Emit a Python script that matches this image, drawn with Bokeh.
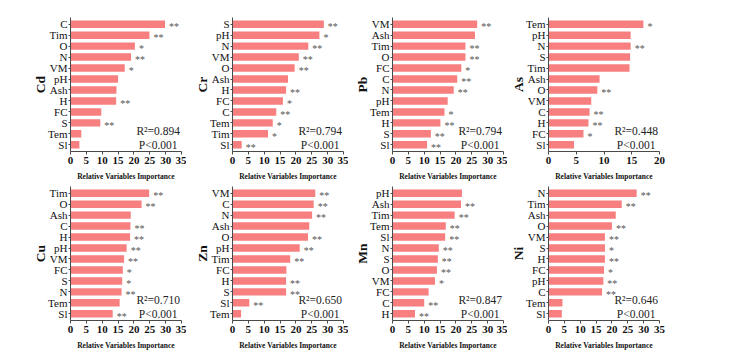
from bokeh.plotting import figure
from bokeh.models import FactorRange, Range1d, FixedTicker, ColumnDataSource
from bokeh.layouts import column, row
from bokeh.embed import file_html
from bokeh.resources import INLINE
from bokeh.core.properties import value

# ---------------- data ----------------
cd_vars = ["C", "Tim", "O", "N", "VM", "pH", "Ash", "H", "FC", "S", "Tem", "Sl"]
cd_vals = [29.8, 24.9, 20.3, 19.1, 17.1, 15.0, 14.5, 14.4, 9.7, 9.4, 3.4, 2.8]
cd_sig = ["**", "**", "*", "**", "*", "", "", "**", "", "**", "", ""]

cr_vars = ["S", "pH", "N", "VM", "O", "Ash", "H", "FC", "C", "Tem", "Tim", "Sl"]
cr_vals = [28.8, 27.4, 23.9, 20.9, 19.6, 17.5, 16.9, 15.9, 13.8, 12.7, 11.2, 2.9]
cr_sig = ["**", "*", "**", "**", "**", "", "**", "*", "**", "*", "*", "**"]

pb_vars = ["VM", "Ash", "Tim", "O", "FC", "C", "N", "pH", "Tem", "H", "S", "Sl"]
pb_vals = [26.7, 26.0, 23.0, 23.0, 21.7, 20.4, 19.3, 17.4, 16.4, 15.1, 12.1, 10.9]
pb_sig = ["**", "", "**", "**", "*", "**", "**", "", "*", "**", "**", "**"]

as_vars = ["Tem", "pH", "N", "S", "Tim", "Ash", "O", "VM", "C", "H", "FC", "Sl"]
as_vals = [17.1, 14.8, 14.8, 14.7, 14.6, 9.2, 8.8, 7.7, 7.4, 7.2, 6.3, 4.6]
as_sig = ["*", "", "**", "", "", "", "**", "", "**", "**", "*", ""]

cu_vars = ["Tim", "O", "Ash", "C", "H", "pH", "VM", "FC", "S", "N", "Tem", "Sl"]
cu_vals = [24.8, 22.4, 19.0, 18.9, 18.8, 17.7, 16.9, 16.5, 16.3, 16.1, 15.5, 13.3]
cu_sig = ["**", "**", "", "**", "**", "**", "**", "*", "*", "**", "", "**"]

zn_vars = ["VM", "C", "N", "Ash", "O", "pH", "Tim", "FC", "H", "S", "Sl", "Tem"]
zn_vals = [26.1, 25.6, 25.1, 24.2, 23.8, 21.2, 18.2, 17.0, 16.9, 16.9, 5.3, 2.7]
zn_sig = ["**", "**", "**", "", "**", "**", "**", "", "**", "**", "**", ""]

mn_vars = ["pH", "Ash", "Tim", "Tem", "Sl", "N", "S", "O", "VM", "FC", "C", "H"]
mn_vals = [21.9, 21.6, 19.6, 16.8, 16.6, 14.6, 14.3, 14.0, 13.4, 11.4, 10.0, 7.1]
mn_sig = ["", "**", "**", "**", "**", "**", "**", "**", "*", "", "**", "**"]

ni_vars = ["N", "Tim", "Ash", "O", "VM", "S", "H", "FC", "pH", "C", "Tem", "Sl"]
ni_vals = [27.8, 23.1, 21.2, 20.0, 17.8, 17.8, 17.8, 17.5, 17.3, 16.9, 4.4, 4.2]
ni_sig = ["**", "**", "", "**", "**", "*", "**", "*", "**", "**", "", ""]

metals = ["Cd", "Cr", "Pb", "As", "Cu", "Zn", "Mn", "Ni"]
r2_texts = ["R²=0.894", "R²=0.794", "R²=0.794", "R²=0.448",
            "R²=0.710", "R²=0.650", "R²=0.847", "R²=0.646"]
p_text = "P<0.001"
x_max = [35, 35, 35, 20, 35, 35, 35, 35]
ticks_35 = [0, 5, 10, 15, 20, 25, 30, 35]
ticks_20 = [0, 5, 10, 15, 20]
x_title = "Relative Variables Importance"

# ---------------- styling ----------------
SERIF = "Liberation Serif"
BAR = "#F77F7F"
AXIS = "#4a4a4a"
FRAME_W = 111
FRAME_H = 134
lefts = [70, 46, 44, 41]
rights = [5, 5, 4, 10]


def panel(i, vars_, vals, sig):
    top = i < 4
    col = i % 4
    factors = list(reversed(vars_))
    p = figure(
        y_range=FactorRange(*factors, range_padding=0.11, range_padding_units="absolute"),
        x_range=Range1d(0, x_max[i]),
        frame_width=FRAME_W, frame_height=FRAME_H,
        min_border_left=lefts[col], min_border_right=rights[col],
        min_border_top=17 if top else 1,
        min_border_bottom=34 if top else 30,
        output_backend="svg", toolbar_location=None,
    )
    p.outline_line_color = None
    p.background_fill_color = "white"
    p.border_fill_color = "white"
    p.xgrid.visible = False
    p.ygrid.visible = False

    src = ColumnDataSource(dict(var=vars_, val=vals, sig=sig))
    p.hbar(y="var", right="val", left=0, height=0.68, source=src,
           fill_color=BAR, line_color=None)
    p.text(x="val", y="var", text="sig", source=src, x_offset=4, y_offset=2.5,
           text_font=value(SERIF), text_font_size="10px", text_color="#555555",
           text_align="left", text_baseline="middle")

    xr = 0.79 * x_max[i]
    p.text(x=[xr], y=[factors[1]], text=[r2_texts[i]], y_offset=-3,
           text_font=value(SERIF), text_font_size="11.5px", text_color="#222222",
           text_align="center", text_baseline="middle")
    p.text(x=[xr], y=[factors[0]], text=[p_text], y_offset=0,
           text_font=value(SERIF), text_font_size="11.5px", text_color="#222222",
           text_align="center", text_baseline="middle")

    # x axis
    xa = p.xaxis[0]
    xa.ticker = FixedTicker(ticks=ticks_20 if x_max[i] == 20 else ticks_35)
    xa.minor_tick_line_color = None
    xa.major_tick_in = 0
    xa.major_tick_out = 3
    xa.major_label_standoff = 2
    xa.axis_line_color = AXIS
    xa.major_tick_line_color = AXIS
    xa.major_label_text_font = SERIF
    xa.major_label_text_font_style = "bold"
    xa.major_label_text_font_size = "11px"
    xa.major_label_text_color = "#111111"
    xa.axis_label = x_title
    xa.axis_label_text_font = SERIF
    xa.axis_label_text_font_style = "bold"
    xa.axis_label_text_font_size = "7.5px"
    xa.axis_label_text_color = "#111111"
    xa.axis_label_standoff = 5

    # y axis
    ya = p.yaxis[0]
    ya.major_tick_in = 0
    ya.major_tick_out = 2
    ya.major_label_standoff = 1
    ya.axis_line_color = AXIS
    ya.major_tick_line_color = AXIS
    ya.major_label_text_font = SERIF
    ya.major_label_text_font_size = "11px"
    ya.major_label_text_color = "#111111"
    ya.axis_label = metals[i]
    ya.axis_label_text_font = SERIF
    ya.axis_label_text_font_style = "bold"
    ya.axis_label_text_font_size = "13.5px"
    ya.axis_label_text_color = "#111111"
    ya.axis_label_standoff = -3
    return p


data = [
    (cd_vars, cd_vals, cd_sig), (cr_vars, cr_vals, cr_sig),
    (pb_vars, pb_vals, pb_sig), (as_vars, as_vals, as_sig),
    (cu_vars, cu_vals, cu_sig), (zn_vars, zn_vals, zn_sig),
    (mn_vars, mn_vals, mn_sig), (ni_vars, ni_vals, ni_sig),
]
figs = [panel(i, *d) for i, d in enumerate(data)]
layout = column(row(*figs[:4]), row(*figs[4:]))

open("out.html", "w").write(file_html(layout, INLINE))
